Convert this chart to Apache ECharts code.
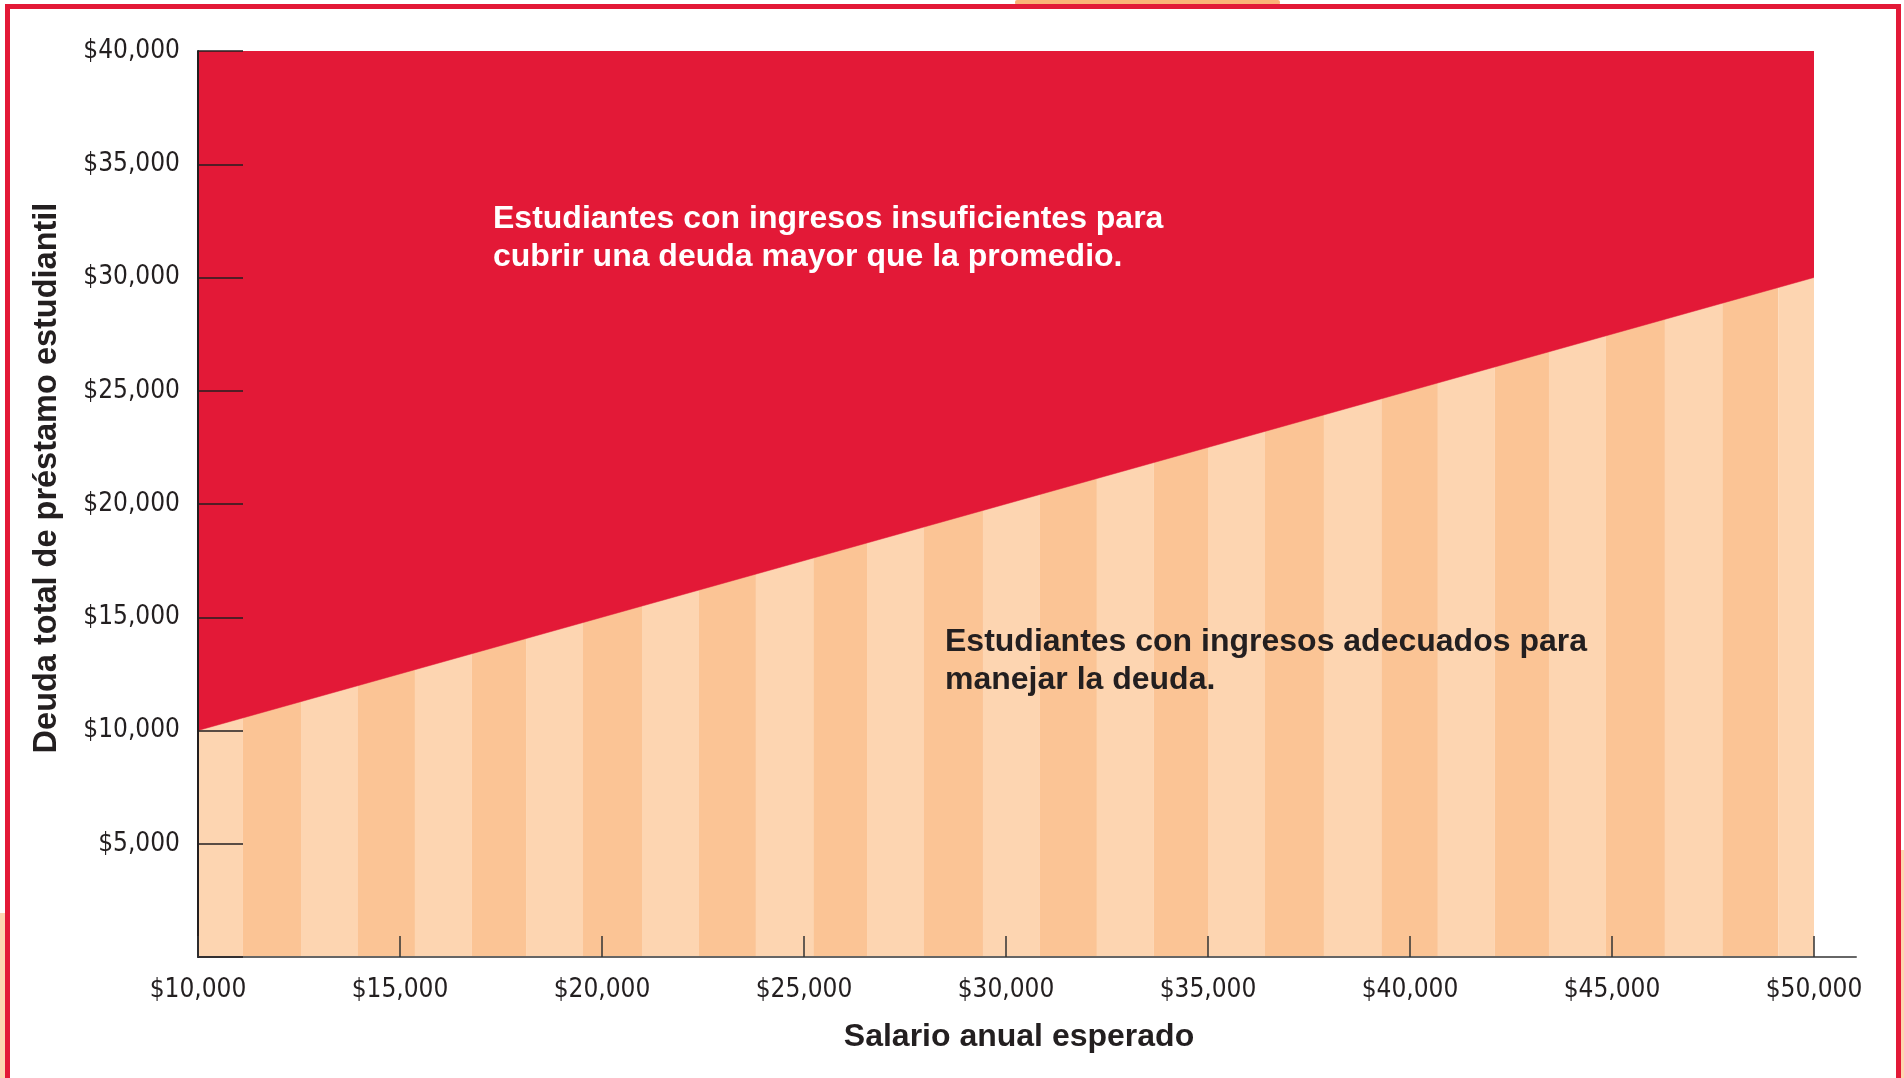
<!DOCTYPE html>
<html>
<head>
<meta charset="utf-8">
<script src="https://cdn.jsdelivr.net/npm/echarts@6/dist/echarts.min.js"></script>
<style>
  html, body { margin: 0; padding: 0; background: #ffffff; }
  #chart { width: 1904px; height: 1078px; }
</style>
</head>
<body>
<div id="chart"></div>
<script>
// ---- data ----
const salaryMin = 10000, salaryMax = 50000, salaryStep = 5000;
const debtMin = 0, debtMax = 40000, debtStep = 5000;
const thresholdSalary = [10000, 50000];
const thresholdDebt = [10000, 30000];
const stripeEdges = [10000, 11100, 12550, 13960, 15370, 16780, 18120, 19530, 20990, 22400,
  23810, 25230, 26560, 27970, 29430, 30840, 32250, 33660, 35000, 36410,
  37870, 39290, 40690, 42100, 43440, 44850, 46310, 47730, 49120, 50000];
const yAxisTitle = 'Deuda total de préstamo estudiantil';
const xAxisTitle = 'Salario anual esperado';
const noteInsufficient = ['Estudiantes con ingresos insuficientes para', 'cubrir una deuda mayor que la promedio.'];
const noteAdequate = ['Estudiantes con ingresos adecuados para', 'manejar la deuda.'];

// ---- styles ----
const RED = '#E31937';
const PEACH_LIGHT = '#FDD5B1';
const PEACH_DARK = '#FBC495';
const INK = '#231F20';
const NARROW = "'DejaVu Sans Condensed', 'Liberation Sans Narrow', sans-serif";
const BOLD = "'Liberation Sans', Arial, Helvetica, sans-serif";

const money = v => '$' + Number(v).toLocaleString('en-US');

const stripes = [];
for (let i = 0; i < stripeEdges.length - 1; i++) {
  stripes.push([stripeEdges[i], stripeEdges[i + 1], i % 2]);
}
const thresholdLine = thresholdSalary.map((s, i) => [s, thresholdDebt[i]]);

const chart = echarts.init(document.getElementById('chart'), null, { renderer: 'canvas' });

const option = {
  backgroundColor: '#ffffff',
  animation: false,
  grid: [
    { left: 198, right: 90, top: 51, bottom: 121, containLabel: false },
    { left: 198, right: 48, top: 51, bottom: 121, containLabel: false }
  ],
  xAxis: [
    {
      type: 'value', gridIndex: 0,
      min: salaryMin, max: salaryMax, interval: salaryStep,
      z: 10,
      axisLine: { show: false },
      axisTick: { show: true, inside: true, length: 21, lineStyle: { color: '#333333', width: 1.5 } },
      axisLabel: { show: true, margin: 20, formatter: money, fontFamily: NARROW, fontSize: 26, color: INK },
      splitLine: { show: false }
    },
    {
      type: 'value', gridIndex: 1, min: 0, max: 1,
      z: 9,
      axisLine: { show: true, onZero: false, lineStyle: { color: '#666666', width: 2 } },
      axisTick: { show: false }, axisLabel: { show: false }, splitLine: { show: false }
    }
  ],
  yAxis: [
    {
      type: 'value', gridIndex: 0,
      min: debtMin, max: debtMax, interval: debtStep,
      z: 10,
      axisLine: { show: true, lineStyle: { color: INK, width: 2 } },
      axisTick: { show: true, inside: true, length: 45, lineStyle: { color: INK, width: 1.5 } },
      axisLabel: { show: true, margin: 18, formatter: v => (v === 0 ? '' : money(v)), fontFamily: NARROW, fontSize: 26, color: INK },
      splitLine: { show: false }
    },
    {
      type: 'value', gridIndex: 1, min: 0, max: 1, show: false
    }
  ],
  series: [
    {
      type: 'custom',
      xAxisIndex: 0, yAxisIndex: 0,
      z: 1,
      encode: { x: [0, 1], y: 2 },
      data: stripes,
      renderItem: function (params, api) {
        const p0 = api.coord([api.value(0), debtMax]);
        const p1 = api.coord([api.value(1), debtMin]);
        return {
          type: 'rect',
          shape: { x: p0[0], y: p0[1], width: p1[0] - p0[0], height: p1[1] - p0[1] },
          style: { fill: api.value(2) ? PEACH_DARK : PEACH_LIGHT }
        };
      }
    },
    {
      type: 'line',
      xAxisIndex: 0, yAxisIndex: 0,
      z: 3,
      data: thresholdLine,
      symbol: 'none',
      lineStyle: { color: RED, width: 0.5 },
      areaStyle: { color: RED, opacity: 1, origin: 'end' }
    }
  ],
  graphic: [
    // page frame
    { type: 'rect', shape: { x: 1015, y: 0, width: 265, height: 5, r: 2 }, style: { fill: '#FBB377' }, z: 0 },
    { type: 'rect', shape: { x: 5, y: 4, width: 1896, height: 5 }, style: { fill: RED }, z: 1 },
    { type: 'rect', shape: { x: 5, y: 4, width: 5, height: 1074 }, style: { fill: RED }, z: 1 },
    { type: 'rect', shape: { x: 1896, y: 4, width: 5, height: 1074 }, style: { fill: RED }, z: 1 },
    { type: 'rect', shape: { x: 0, y: 913, width: 5, height: 165 }, style: { fill: PEACH_LIGHT }, z: 0 },
    { type: 'rect', shape: { x: 1901, y: 850, width: 3, height: 228 }, style: { fill: PEACH_LIGHT }, z: 0 },
    // axis titles
    {
      type: 'text', x: 47, y: 478, rotation: Math.PI / 2, z: 20,
      style: { text: yAxisTitle, fontFamily: BOLD, fontWeight: 'bold', fontSize: 32.5, fill: INK, align: 'center', verticalAlign: 'middle' }
    },
    {
      type: 'text', x: 1019, y: 1037, z: 20,
      style: { text: xAxisTitle, fontFamily: BOLD, fontWeight: 'bold', fontSize: 32, fill: INK, align: 'center', verticalAlign: 'middle' }
    },
    // annotations
    {
      type: 'text', x: 493, y: 200, z: 20,
      style: { text: noteInsufficient.join('\n'), fontFamily: BOLD, fontWeight: 'bold', fontSize: 32, lineHeight: 38, fill: '#FFFFFF', align: 'left', verticalAlign: 'top' }
    },
    {
      type: 'text', x: 945, y: 623, z: 20,
      style: { text: noteAdequate.join('\n'), fontFamily: BOLD, fontWeight: 'bold', fontSize: 32, lineHeight: 38, fill: INK, align: 'left', verticalAlign: 'top' }
    }
  ]
};

chart.setOption(option);
</script>
</body>
</html>
